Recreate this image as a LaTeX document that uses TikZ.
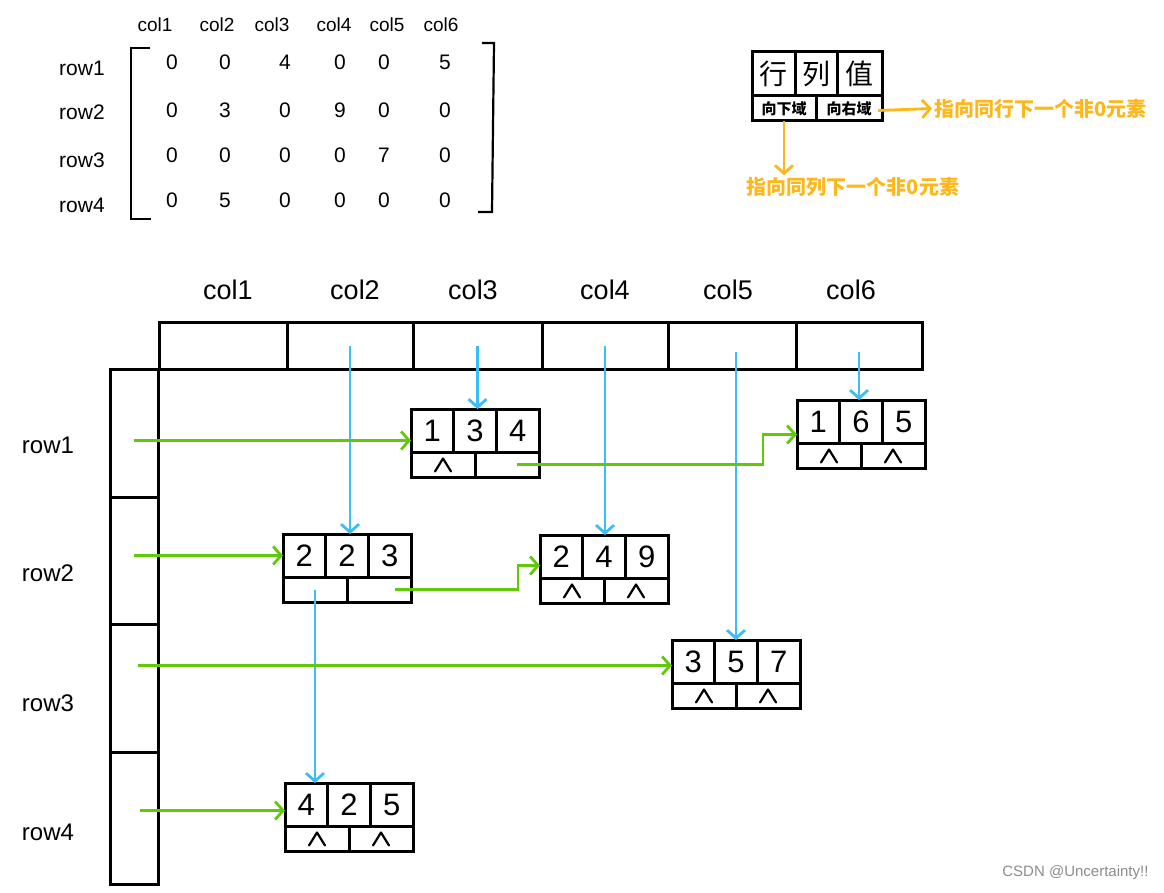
\documentclass[tikz,border=0pt]{standalone}
\usepackage{fontspec}
\setmainfont{Liberation Sans}
\newfontfamily\cjk{Noto Sans CJK SC}
\usetikzlibrary{arrows.meta,calc}
\definecolor{bl}{HTML}{3BBEF5}
\definecolor{gr}{HTML}{62C90A}
\definecolor{og}{HTML}{FFB619}
\tikzset{
 box/.style={draw, line width=3pt, inner sep=0pt, outer sep=0pt, anchor=north west},
 numcell/.style={box, minimum width=42.67pt, minimum height=43pt, font=\fontsize{31}{33}\selectfont},
 linkcell/.style={box, minimum width=64pt, minimum height=25pt},
 wedgeline/.style={line width=2.2pt, line cap=round, line join=round},
 blarrow/.style={draw=bl, line width=2.8pt, -{Straight Barb[length=8pt,width=18pt,line width=2.8pt]}},
 grarrow/.style={draw=gr, line width=2.8pt, -{Straight Barb[length=8pt,width=18pt,line width=2.8pt]}},
 ogarrow/.style={draw=og, line width=2.8pt, -{Straight Barb[length=8pt,width=18pt,line width=2.8pt]}},
 smalllabel/.style={font=\fontsize{19}{21}\selectfont},
 rowlabel/.style={font=\fontsize{21}{23}\selectfont},
 biglabel/.style={font=\fontsize{27}{29}\selectfont},
 mval/.style={font=\fontsize{21}{23}\selectfont},
 ogtext/.style={text=og, font=\cjk\bfseries\fontsize{20}{22}\selectfont, inner sep=2pt},
}
\newcommand{\elem}[6]{%
 \node[numcell] (#1r) at (#2,#3) {#4};
 \node[numcell] (#1c) at (#1r.north east) {#5};
 \node[numcell] (#1v) at (#1c.north east) {#6};
 \node[linkcell] (#1d) at (#1r.south west) {};
 \node[linkcell] (#1rt) at (#1d.north east) {};
}
\newcommand{\wedgemark}[1]{%
 \draw[wedgeline] ([shift={(-8,7)}]#1.center) -- ([shift={(0,-6)}]#1.center) -- ([shift={(8,7)}]#1.center);}
\begin{document}
\begin{tikzpicture}[x=1pt,y=-1pt]
\useasboundingbox (0,0) rectangle (1164,893);

% ---------- top matrix ----------
\foreach \t/\xx in {col1/155,col2/217,col3/272,col4/334,col5/387,col6/441}
  \node[smalllabel] (mc\t) at (\xx,25) {\t};
\foreach \t/\yy in {row1/68,row2/112,row3/160,row4/205}
  \node[rowlabel] (mr\t) at (82,\yy) {\t};
\draw[line width=2.2pt] (150,48) -- (131,48) -- (131,219) -- (151,219);
\draw[line width=2.2pt] (482,43) -- (494,43) -- (492,212) -- (478,212);
\foreach \row [count=\i] in {{0,0,4,0,0,5},{0,3,0,9,0,0},{0,0,0,0,7,0},{0,5,0,0,0,0}}{
  \foreach \v [count=\j] in \row {
    \pgfmathsetmacro{\xx}{{172,225,285,340,384,445}[\j-1]}
    \pgfmathsetmacro{\yy}{{62,110,155,200}[\i-1]}
    \node[mval] (m\i\j) at (\xx,\yy) {\v};
  }
}

% ---------- legend ----------
\node[box, minimum width=43pt, minimum height=44pt, font=\cjk\fontsize{28}{30}\selectfont] (lgr) at (752,52) {行};
\node[box, minimum width=42pt, minimum height=44pt, font=\cjk\fontsize{28}{30}\selectfont] (lgc) at (lgr.north east) {列};
\node[box, minimum width=45pt, minimum height=44pt, font=\cjk\fontsize{28}{30}\selectfont] (lgv) at (lgc.north east) {值};
\node[box, minimum width=64pt, minimum height=25pt, font=\cjk\bfseries\fontsize{15}{16}\selectfont] (lgd) at (lgr.south west) {向下域};
\node[box, minimum width=66pt, minimum height=25pt, font=\cjk\bfseries\fontsize{15}{16}\selectfont] (lgrt) at (lgd.north east) {向右域};
\node[ogtext, anchor=west] (lt1) at (932,109) {指向同行下一个非0元素};
\node[ogtext] (lt2) at (853,187) {指向同列下一个非0元素};
\draw[ogarrow] ([xshift=-4pt,yshift=-2pt]lgrt.east) -- (lt1.west |- lgrt.east);
\draw[ogarrow] (lgd.south) -- (lgd.south |- lt2.north);

% ---------- headers ----------
\foreach \n/\xx/\w in {1/159/128,2/287/126,3/413/129,4/542/126,5/668/128,6/796/126}
  \node[box, minimum width=\w pt, minimum height=47pt] (h\n) at (\xx,322) {};
\foreach \n/\yy/\h in {1/369/128,2/497/127,3/624/128,4/752/132}
  \node[box, minimum width=48pt, minimum height=\h pt] (r\n) at (110,\yy) {};
\foreach \n/\xx in {1/228,2/355,3/473,4/605,5/728,6/851}
  \node[biglabel] (cl\n) at (\xx,290) {col\n};
\foreach \n/\yy in {1/445,2/573,3/703,4/832}
  \node[biglabel, font=\fontsize{24}{26}\selectfont] (rl\n) at (48,\yy) {row\n};

% ---------- elements ----------
\elem{a}{411}{409}{1}{3}{4}
\elem{b}{797}{400}{1}{6}{5}
\elem{c}{283}{534}{2}{2}{3}
\elem{d}{540}{535}{2}{4}{9}
\elem{e}{672}{640}{3}{5}{7}
\elem{f}{285}{783}{4}{2}{5}
\wedgemark{ad}
\wedgemark{bd}\wedgemark{brt}
\wedgemark{dd}\wedgemark{drt}
\wedgemark{ed}\wedgemark{ert}
\wedgemark{fd}\wedgemark{frt}

% ---------- blue (column) links ----------
\draw[blarrow] (h2.center) -- (h2.center |- cc.north);
\draw[blarrow] (h3.center) -- (h3.center |- ac.north);
\draw[blarrow] (h4.center) -- (h4.center |- dc.north);
\coordinate (b5) at ([xshift=4pt,yshift=-6pt]h5.center);
\draw[blarrow] (b5) -- (b5 |- ec.north);
\coordinate (b6) at ([yshift=-6pt]h6.center);
\draw[blarrow] (b6) -- (b6 |- bc.north);
\draw[blarrow] (cd.center) -- (cd.center |- fr.north);

% ---------- green (row) links ----------
\coordinate (ga) at ([yshift=-10pt]ar.west);
\coordinate (ge) at ([yshift=-4pt]er.west);
\coordinate (gf) at ([yshift=-6pt]fr.west);
\coordinate (gb) at ([yshift=-13pt]br.west);
\coordinate (gd) at ([yshift=-9pt]dr.west);
\draw[grarrow] (r1.center |- ga) -- (ga);
\draw[grarrow] (r2.center |- cr.west) -- (cr.west);
\draw[grarrow] ([xshift=4pt]r3.center |- ge) -- (ge);
\draw[grarrow] ([xshift=6pt]r4.center |- gf) -- (gf);
\draw[grarrow] ([xshift=10pt]art.center) -| ([xshift=-34pt]gb) -- (gb);
\draw[grarrow] ([xshift=16pt]crt.center) -| ([xshift=-22pt]gd) -- (gd);

% ---------- watermark ----------
\node[anchor=east, text=black!45, font=\fontsize{15}{17}\selectfont] (wm) at (1152,873) {CSDN @Uncertainty!!};
\end{tikzpicture}
\end{document}
